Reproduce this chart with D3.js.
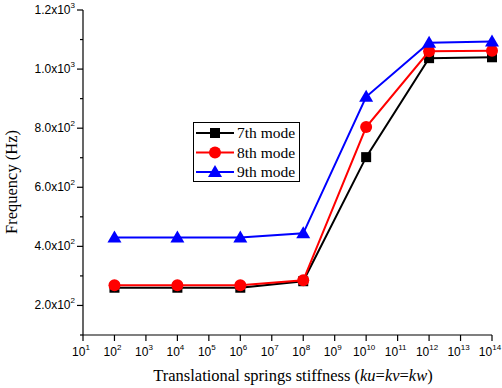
<!DOCTYPE html>
<html><head><meta charset="utf-8">
<script src="https://cdn.jsdelivr.net/npm/d3@7"></script>
<style>body{margin:0;background:#fff}svg{display:block}</style>
</head><body>
<script>
const stiffnessExp = [2, 4, 6, 8, 10, 12, 14];
const mode7 = [260, 260, 260, 282, 702, 1037, 1040];
const mode8 = [268, 268, 268, 285, 804, 1060, 1062];
const mode9 = [430, 430, 430, 444, 906, 1089, 1093];
const seriesNames = ["7th mode", "8th mode", "9th mode"];
const seriesColors = ["#000000", "#ff0000", "#0000ff"];
const xTickExp = d3.range(1, 15);
const yTickMajor = [[2.0, 2], [4.0, 2], [6.0, 2], [8.0, 2], [1.0, 3], [1.2, 3]];
const yTickMinor = [100, 300, 500, 700, 900, 1100];

const W = 502, H = 388;
const svg = d3.select("body").append("svg").attr("width", W).attr("height", H);
const x = d3.scaleLog().domain([1e1, 1e14]).range([83, 492]);
const y = d3.scaleLinear().domain([100, 1200]).range([335, 10]);

// axes
const ax = svg.append("g").attr("stroke", "#000").attr("stroke-width", 1.2);
ax.append("line").attr("x1", 83).attr("x2", x(1e14)).attr("y1", 335).attr("y2", 335);
ax.append("line").attr("x1", 83).attr("x2", 83).attr("y1", y(1200)).attr("y2", 335);
xTickExp.forEach(e => {
  ax.append("line").attr("x1", x(Math.pow(10, e))).attr("x2", x(Math.pow(10, e))).attr("y1", 335).attr("y2", 341);
});
yTickMajor.forEach(t => {
  const v = t[0] * Math.pow(10, t[1]);
  ax.append("line").attr("x1", 77).attr("x2", 83).attr("y1", y(v)).attr("y2", y(v));
});
yTickMinor.forEach(v => {
  ax.append("line").attr("x1", 80).attr("x2", 83).attr("y1", y(v)).attr("y2", y(v));
});

const tf = "'Liberation Sans', Arial, sans-serif";
// x tick labels
xTickExp.forEach(e => {
  const t = svg.append("text").attr("x", x(Math.pow(10, e)) - 2).attr("y", 356)
    .attr("text-anchor", "middle").attr("font-family", tf).attr("font-size", 12);
  t.append("tspan").text("10");
  t.append("tspan").attr("dy", -6).attr("font-size", 8).text(e);
});
// y tick labels
yTickMajor.forEach(tk => {
  const v = tk[0] * Math.pow(10, tk[1]);
  const t = svg.append("text").attr("x", 75).attr("y", y(v) + 4)
    .attr("text-anchor", "end").attr("font-family", tf).attr("font-size", 12);
  t.append("tspan").text(tk[0].toFixed(1) + "x10");
  t.append("tspan").attr("dy", -6).attr("font-size", 8).text(tk[1]);
});

const sf = "'Liberation Serif', 'Times New Roman', serif";
const xt = svg.append("text").attr("x", 293).attr("y", 381).attr("text-anchor", "middle")
  .attr("font-family", sf).attr("font-size", 16.5);
xt.append("tspan").text("Translational springs stiffness (");
xt.append("tspan").attr("font-style", "italic").text("ku");
xt.append("tspan").text("=");
xt.append("tspan").attr("font-style", "italic").text("kv");
xt.append("tspan").text("=");
xt.append("tspan").attr("font-style", "italic").text("kw");
xt.append("tspan").text(")");
svg.append("text").attr("transform", "translate(17,182) rotate(-90)").attr("text-anchor", "middle")
  .attr("font-family", sf).attr("font-size", 16.5).text("Frequency (Hz)");

// series
const allSeries = [mode7, mode8, mode9];
const line = d3.line().x((d, i) => x(Math.pow(10, stiffnessExp[i]))).y(d => y(d));
function marker(g, k, cx, cy) {
  const c = seriesColors[k];
  if (k === 0) g.append("rect").attr("x", cx - 5).attr("y", cy - 5).attr("width", 10).attr("height", 10).attr("fill", c);
  else if (k === 1) g.append("circle").attr("cx", cx).attr("cy", cy).attr("r", 6).attr("fill", c);
  else g.append("path").attr("d", `M${cx},${cy - 7}L${cx + 7},${cy + 5}L${cx - 7},${cy + 5}Z`).attr("fill", c);
}
allSeries.forEach((s, k) => {
  const g = svg.append("g");
  g.append("path").attr("d", line(s)).attr("fill", "none").attr("stroke", seriesColors[k]).attr("stroke-width", 2);
  s.forEach((v, i) => marker(g, k, x(Math.pow(10, stiffnessExp[i])), y(v)));
});

// legend
const lg = svg.append("g");
lg.append("rect").attr("x", 193.5).attr("y", 122.5).attr("width", 106).attr("height", 59)
  .attr("fill", "#fff").attr("stroke", "#000").attr("stroke-width", 1);
seriesNames.forEach((n, k) => {
  const cy = 133 + k * 19.5;
  lg.append("line").attr("x1", 196).attr("x2", 234).attr("y1", cy).attr("y2", cy)
    .attr("stroke", seriesColors[k]).attr("stroke-width", 2);
  marker(lg, k, 215, cy);
  lg.append("text").attr("x", 237).attr("y", cy + 5).attr("font-family", sf).attr("font-size", 15.5).text(n);
});
</script>
</body></html>
